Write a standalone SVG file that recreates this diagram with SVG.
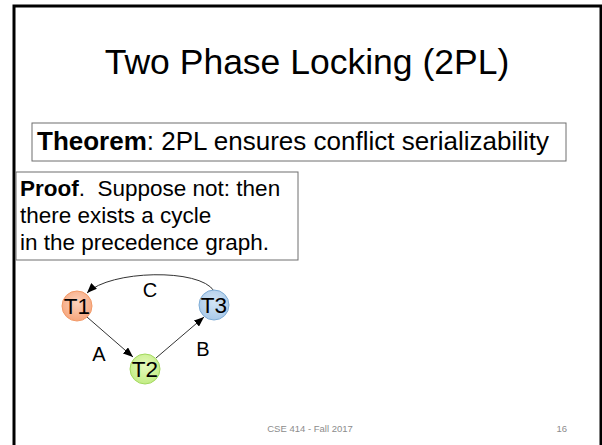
<svg xmlns="http://www.w3.org/2000/svg" width="602" height="445" viewBox="0 0 602 445">
<style>
text{font-family:"Liberation Sans",Arial,sans-serif;fill:#000}
.title{font-size:35.5px}
.thm{font-size:26px}
.prf{font-size:22.5px}
.lbl{font-size:20px}
.nd{font-size:22.5px}
.foot{font-size:9.5px;fill:#8c8c8c}
.box{fill:#fff;stroke:#6e6e6e;stroke-width:1}
.edge{fill:none;stroke:#333;stroke-width:1}
</style>
<defs>
<marker id="ah" viewBox="0 0 10 8" refX="10" refY="4" markerWidth="10" markerHeight="8" markerUnits="userSpaceOnUse" orient="auto">
<path d="M0,0 L10,4 L0,8 z" fill="#000"/>
</marker>
<radialGradient id="g1" cx="0.5" cy="0.4" r="0.6"><stop offset="0" stop-color="#fcd3bd"/><stop offset="1" stop-color="#f6a57c"/></radialGradient>
<radialGradient id="g2" cx="0.5" cy="0.4" r="0.6"><stop offset="0" stop-color="#e6fabd"/><stop offset="1" stop-color="#c2ec84"/></radialGradient>
<radialGradient id="g3" cx="0.5" cy="0.4" r="0.6"><stop offset="0" stop-color="#d3e5f5"/><stop offset="1" stop-color="#a9c9e9"/></radialGradient>
</defs>
<rect x="14" y="6" width="587" height="450" fill="#fff" stroke="#000" stroke-width="3"/>
<text class="title" x="307" y="74" text-anchor="middle">Two Phase Locking (2PL)</text>
<g id="theorem">
<rect class="box" x="32" y="123" width="534" height="38"/>
<text class="thm" x="37" y="150"><tspan font-weight="bold">Theorem</tspan>: 2PL ensures conflict serializability</text>
</g>
<g id="proof">
<rect class="box" x="16" y="172" width="282" height="88"/>
<text class="prf" x="20" y="196" xml:space="preserve"><tspan font-weight="bold">Proof</tspan>.  Suppose not: then</text>
<text class="prf" x="20" y="223">there exists a cycle</text>
<text class="prf" x="20" y="250">in the precedence graph.</text>
</g>
<g id="connectors">
<line class="edge" x1="87" y1="317" x2="133" y2="357" marker-end="url(#ah)"/>
<line class="edge" x1="156" y1="358" x2="204" y2="317" marker-end="url(#ah)"/>
<path class="edge" d="M214,291 C200,268 110,270 87,293" marker-end="url(#ah)"/>
<text class="lbl" x="99" y="361" text-anchor="middle">A</text>
<text class="lbl" x="203" y="356" text-anchor="middle">B</text>
<text class="lbl" x="150" y="297" text-anchor="middle">C</text>
</g>
<g id="T1">
<circle cx="77" cy="306" r="15" fill="url(#g1)" stroke="#f29a68" stroke-width="1"/>
<text class="nd" x="77" y="314" text-anchor="middle">T1</text>
</g>
<g id="T2">
<circle cx="145" cy="369" r="15" fill="url(#g2)" stroke="#a3d95f" stroke-width="1"/>
<text class="nd" x="145" y="377" text-anchor="middle">T2</text>
</g>
<g id="T3">
<circle cx="214" cy="305" r="15" fill="url(#g3)" stroke="#7eacd6" stroke-width="1"/>
<text class="nd" x="214" y="313" text-anchor="middle">T3</text>
</g>
<text class="foot" x="310" y="432" text-anchor="middle">CSE 414 - Fall 2017</text>
<text class="foot" x="567" y="432" text-anchor="end">16</text>
</svg>
